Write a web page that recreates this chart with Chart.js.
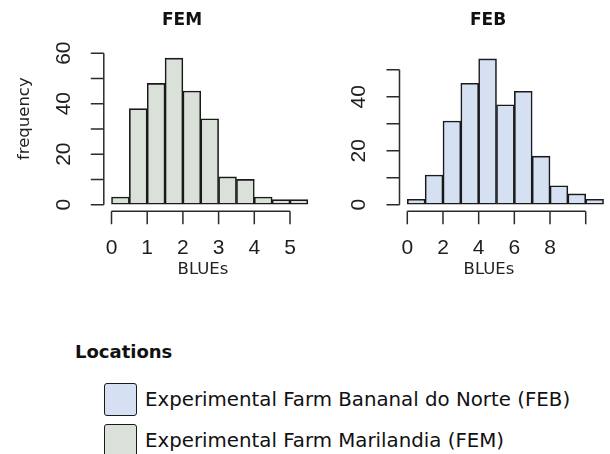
<!DOCTYPE html>
<html>
<head>
<meta charset="utf-8">
<script src="https://cdn.jsdelivr.net/npm/chart.js@4.4.1/dist/chart.umd.min.js"></script>
<style>
  html, body { margin: 0; padding: 0; background: #fff; }
  body { width: 610px; height: 454px; position: relative; overflow: hidden; font-family: "DejaVu Sans", sans-serif; color: #111; }
  canvas { position: absolute; top: 0; }
  #femChart { left: 0; }
  #febChart { left: 335px; }
  .panel-title { position: absolute; top: 9px; width: 120px; text-align: center; font-weight: bold; font-size: 17px; line-height: 20px; }
  #legendTitle { position: absolute; left: 75px; top: 342px; font-weight: bold; font-size: 18px; line-height: 20px; }
  .leg-item { position: absolute; left: 104px; height: 33px; display: flex; align-items: center; white-space: nowrap; }
  .leg-box { width: 33px; height: 33px; box-sizing: border-box; border: 1.8px solid #1a1a1a; border-radius: 3px; margin-right: 8px; }
  .leg-text { font-size: 19.8px; line-height: 33px; }
</style>
</head>
<body>
<canvas id="femChart" width="330" height="290"></canvas>
<canvas id="febChart" width="275" height="290"></canvas>
<div class="panel-title" style="left:122px">FEM</div>
<div class="panel-title" style="left:428px">FEB</div>
<div id="legendTitle">Locations</div>
<div id="legend"></div>

<script>
// --- data ---
const femBinMids = [0.25, 0.75, 1.25, 1.75, 2.25, 2.75, 3.25, 3.75, 4.25, 4.75, 5.25];
const femCounts = [3, 38, 48, 58, 45, 34, 11, 10, 3, 2, 2];
const febBinMids = [0.5, 1.5, 2.5, 3.5, 4.5, 5.5, 6.5, 7.5, 8.5, 9.5, 10.5];
const febCounts = [2, 11, 31, 45, 54, 37, 42, 18, 7, 4, 2];

const femXTicks = [0, 1, 2, 3, 4, 5];
const femXTickLabels = ['0', '1', '2', '3', '4', '5'];
const febXTicks = [0, 2, 4, 6, 8, 10];
const febXTickLabels = ['0', '2', '4', '6', '8', ''];
const femYTicks = [0, 10, 20, 30, 40, 50, 60];
const femYTickLabels = ['0', '', '20', '', '40', '', '60'];
const febYTicks = [0, 10, 20, 30, 40, 50];
const febYTickLabels = ['0', '', '20', '', '40', ''];

const locationNames = ['Experimental Farm Bananal do Norte (FEB)', 'Experimental Farm Marilandia (FEM)'];
const locationColors = ['#d5e0f2', '#dae1d9'];

const axisColor = '#2b2b2b';
const tickLen = 13;

// R style axes: line only spans first..last tick, ticks outward
const rAxes = {
  id: 'rAxes',
  afterDraw(chart) {
    const ctx = chart.ctx, area = chart.chartArea;
    const xs = chart.scales.x, ys = chart.scales.y;
    const xp = xs.ticks.map(t => xs.getPixelForValue(t.value));
    const yp = ys.ticks.map(t => ys.getPixelForValue(t.value));
    const yb = area.bottom + 1;
    const xl = area.left;
    ctx.save();
    ctx.strokeStyle = axisColor;
    ctx.lineWidth = 1.5;
    ctx.beginPath();
    ctx.moveTo(xp[0], yb); ctx.lineTo(xp[xp.length - 1], yb);
    xp.forEach(px => { ctx.moveTo(px, yb); ctx.lineTo(px, yb + tickLen); });
    ctx.moveTo(xl, yp[0]); ctx.lineTo(xl, yp[yp.length - 1]);
    yp.forEach(py => { ctx.moveTo(xl, py); ctx.lineTo(xl - tickLen, py); });
    ctx.stroke();
    ctx.restore();
  }
};

function makeHist(id, p) {
  return new Chart(document.getElementById(id), {
    type: 'bar',
    data: {
      datasets: [{
        data: p.mids.map((m, i) => ({ x: m, y: p.counts[i] })),
        backgroundColor: p.color,
        borderColor: '#1a1a1a',
        borderWidth: 1.6,
        borderSkipped: false,
        barPercentage: 1,
        categoryPercentage: 1,
        clip: false
      }]
    },
    options: {
      responsive: false,
      animation: false,
      layout: { padding: p.pad },
      plugins: { legend: { display: false }, tooltip: { enabled: false } },
      scales: {
        x: {
          type: 'linear',
          offset: false,
          min: p.xMin, max: p.xMax,
          afterBuildTicks: s => { s.ticks = p.xTicks.map(v => ({ value: v })); },
          afterFit: s => { s.height = 69; },
          grid: { display: true, drawOnChartArea: false, color: 'rgba(0,0,0,0)', tickLength: tickLen, offset: false },
          border: { display: false },
          ticks: {
            autoSkip: false, maxRotation: 0, padding: 12,
            color: '#1e1e1e', font: { family: 'Liberation Sans', size: 21 },
            callback: (v, i) => p.xLabels[i]
          },
          title: { display: true, text: 'BLUEs', color: '#222', padding: { top: 0, bottom: 0 }, font: { family: 'DejaVu Sans', size: 16.5 } }
        },
        y: {
          min: p.yMin, max: p.yMax,
          afterBuildTicks: s => { s.ticks = p.yTicks.map(v => ({ value: v })); },
          afterFit: s => { s.width = p.yWidth; },
          grid: { display: true, drawOnChartArea: false, color: 'rgba(0,0,0,0)', tickLength: tickLen },
          border: { display: false },
          ticks: {
            autoSkip: false, minRotation: 90, maxRotation: 90, crossAlign: 'center', padding: p.yPad,
            color: '#1e1e1e', font: { family: 'Liberation Sans', size: 21 },
            callback: (v, i) => p.yLabels[i]
          },
          title: { display: !!p.yTitle, text: p.yTitle || '', color: '#222', padding: { top: 15, bottom: 0 }, font: { family: 'DejaVu Sans', size: 16.5 } }
        }
      }
    },
    plugins: [rAxes]
  });
}

makeHist('femChart', {
  mids: femBinMids, counts: femCounts, color: locationColors[1],
  pad: { left: 0, right: 27.8, top: 15, bottom: 10.8 },
  xMin: -0.216, xMax: 5.342, yMin: -2.19, yMax: 70.27,
  xTicks: femXTicks, xLabels: femXTickLabels,
  yTicks: femYTicks, yLabels: femYTickLabels,
  yWidth: 103.8, yPad: 14.6, yTitle: 'frequency'
});

makeHist('febChart', {
  mids: febBinMids, counts: febCounts, color: locationColors[0],
  pad: { left: 0, right: 31.5, top: 15, bottom: 10.8 },
  xMin: -0.437, xMax: 9.596, yMin: -2.04, yMax: 65.5,
  xTicks: febXTicks, xLabels: febXTickLabels,
  yTicks: febYTicks, yLabels: febYTickLabels,
  yWidth: 64.5, yPad: 15.3
});

// --- legend ---
const legendEl = document.getElementById('legend');
locationNames.forEach((name, i) => {
  const item = document.createElement('div');
  item.className = 'leg-item';
  item.style.top = (383 + i * 41) + 'px';
  item.innerHTML = `<div class="leg-box" style="background:${locationColors[i]}"></div><span class="leg-text">${name}</span>`;
  legendEl.appendChild(item);
});
</script>
</body>
</html>
